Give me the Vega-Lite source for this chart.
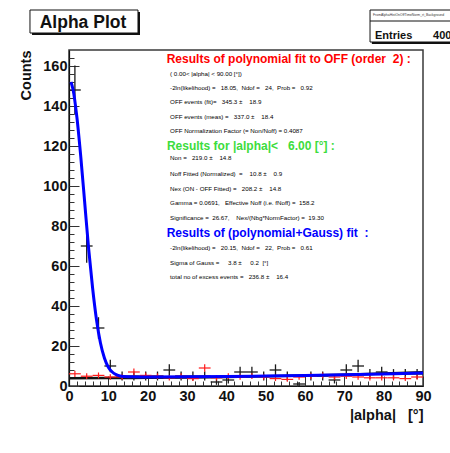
{
  "$schema": "https://vega.github.io/schema/vega-lite/v6.json",
  "width": 354,
  "height": 336,
  "autosize": "none",
  "padding": {"left": 69, "top": 50, "right": 27, "bottom": 67},
  "background": "white",
  "config": {
    "view": {"stroke": "#3a3a3a", "strokeWidth": 1.5},
    "axis": {
      "grid": false,
      "domainColor": "#111111",
      "domainWidth": 1.2,
      "tickColor": "#333333",
      "tickWidth": 1,
      "labelFont": "Liberation Sans",
      "labelFontWeight": "bold",
      "labelFontSize": 14.5,
      "labelColor": "#111111",
      "labelOverlap": false,
      "labelFlush": false,
      "titleFont": "Liberation Sans",
      "titleFontWeight": "bold",
      "titleFontSize": 14.5,
      "titleColor": "#111111"
    },
    "text": {"font": "Liberation Sans"}
  },
  "datasets": {
    "on": [
      {"alpha": 1.5, "counts": 148, "lo": 135.8, "hi": 160.2, "xlo": 0, "xhi": 3},
      {"alpha": 4.5, "counts": 70, "lo": 61.6, "hi": 78.4, "xlo": 3, "xhi": 6},
      {"alpha": 7.5, "counts": 29, "lo": 23.6, "hi": 34.4, "xlo": 6, "xhi": 9},
      {"alpha": 10.5, "counts": 10, "lo": 6.84, "hi": 13.16, "xlo": 9, "xhi": 12},
      {"alpha": 13.5, "counts": 5, "lo": 2.76, "hi": 7.24, "xlo": 12, "xhi": 15},
      {"alpha": 16.5, "counts": 5, "lo": 2.76, "hi": 7.24, "xlo": 15, "xhi": 18},
      {"alpha": 19.5, "counts": 5, "lo": 2.76, "hi": 7.24, "xlo": 18, "xhi": 21},
      {"alpha": 22.5, "counts": 5, "lo": 2.76, "hi": 7.24, "xlo": 21, "xhi": 24},
      {"alpha": 25.5, "counts": 8, "lo": 5.17, "hi": 10.83, "xlo": 24, "xhi": 27},
      {"alpha": 28.5, "counts": 5, "lo": 2.76, "hi": 7.24, "xlo": 27, "xhi": 30},
      {"alpha": 31.5, "counts": 5, "lo": 2.76, "hi": 7.24, "xlo": 30, "xhi": 33},
      {"alpha": 34.5, "counts": 5, "lo": 2.76, "hi": 7.24, "xlo": 33, "xhi": 36},
      {"alpha": 37.5, "counts": 2, "lo": 0.59, "hi": 3.41, "xlo": 36, "xhi": 39},
      {"alpha": 40.5, "counts": 3, "lo": 1.27, "hi": 4.73, "xlo": 39, "xhi": 42},
      {"alpha": 43.5, "counts": 7, "lo": 4.35, "hi": 9.65, "xlo": 42, "xhi": 45},
      {"alpha": 46.5, "counts": 7, "lo": 4.35, "hi": 9.65, "xlo": 45, "xhi": 48},
      {"alpha": 49.5, "counts": 5, "lo": 2.76, "hi": 7.24, "xlo": 48, "xhi": 51},
      {"alpha": 52.5, "counts": 8, "lo": 5.17, "hi": 10.83, "xlo": 51, "xhi": 54},
      {"alpha": 55.5, "counts": 5, "lo": 2.76, "hi": 7.24, "xlo": 54, "xhi": 57},
      {"alpha": 58.5, "counts": 1, "lo": 0, "hi": 2, "xlo": 57, "xhi": 60},
      {"alpha": 61.5, "counts": 5, "lo": 2.76, "hi": 7.24, "xlo": 60, "xhi": 63},
      {"alpha": 64.5, "counts": 5, "lo": 2.76, "hi": 7.24, "xlo": 63, "xhi": 66},
      {"alpha": 67.5, "counts": 3, "lo": 1.27, "hi": 4.73, "xlo": 66, "xhi": 69},
      {"alpha": 70.5, "counts": 8, "lo": 5.17, "hi": 10.83, "xlo": 69, "xhi": 72},
      {"alpha": 73.5, "counts": 10, "lo": 6.84, "hi": 13.16, "xlo": 72, "xhi": 75},
      {"alpha": 76.5, "counts": 6, "lo": 3.55, "hi": 8.45, "xlo": 75, "xhi": 78},
      {"alpha": 79.5, "counts": 7, "lo": 4.35, "hi": 9.65, "xlo": 78, "xhi": 81},
      {"alpha": 82.5, "counts": 6, "lo": 3.55, "hi": 8.45, "xlo": 81, "xhi": 84},
      {"alpha": 85.5, "counts": 6, "lo": 3.55, "hi": 8.45, "xlo": 84, "xhi": 87},
      {"alpha": 88.5, "counts": 6, "lo": 3.55, "hi": 8.45, "xlo": 87, "xhi": 90}
    ],
    "off": [
      {"alpha": 1.5, "counts": 6.1, "lo": 4.52, "hi": 7.68, "xlo": 0, "xhi": 3},
      {"alpha": 4.5, "counts": 4.9, "lo": 3.48, "hi": 6.32, "xlo": 3, "xhi": 6},
      {"alpha": 7.5, "counts": 5.3, "lo": 3.83, "hi": 6.77, "xlo": 6, "xhi": 9},
      {"alpha": 10.5, "counts": 4.5, "lo": 3.14, "hi": 5.86, "xlo": 9, "xhi": 12},
      {"alpha": 13.5, "counts": 4.5, "lo": 3.14, "hi": 5.86, "xlo": 12, "xhi": 15},
      {"alpha": 16.5, "counts": 7.0, "lo": 5.31, "hi": 8.69, "xlo": 15, "xhi": 18},
      {"alpha": 19.5, "counts": 5.3, "lo": 3.83, "hi": 6.77, "xlo": 18, "xhi": 21},
      {"alpha": 22.5, "counts": 4.9, "lo": 3.48, "hi": 6.32, "xlo": 21, "xhi": 24},
      {"alpha": 25.5, "counts": 4.1, "lo": 2.81, "hi": 5.39, "xlo": 24, "xhi": 27},
      {"alpha": 28.5, "counts": 4.9, "lo": 3.48, "hi": 6.32, "xlo": 27, "xhi": 30},
      {"alpha": 31.5, "counts": 3.7, "lo": 2.47, "hi": 4.93, "xlo": 30, "xhi": 33},
      {"alpha": 34.5, "counts": 9.0, "lo": 7.08, "hi": 10.92, "xlo": 33, "xhi": 36},
      {"alpha": 37.5, "counts": 4.1, "lo": 2.81, "hi": 5.39, "xlo": 36, "xhi": 39},
      {"alpha": 40.5, "counts": 4.9, "lo": 3.48, "hi": 6.32, "xlo": 39, "xhi": 42},
      {"alpha": 43.5, "counts": 4.5, "lo": 3.14, "hi": 5.86, "xlo": 42, "xhi": 45},
      {"alpha": 46.5, "counts": 4.9, "lo": 3.48, "hi": 6.32, "xlo": 45, "xhi": 48},
      {"alpha": 49.5, "counts": 4.5, "lo": 3.14, "hi": 5.86, "xlo": 48, "xhi": 51},
      {"alpha": 52.5, "counts": 3.7, "lo": 2.47, "hi": 4.93, "xlo": 51, "xhi": 54},
      {"alpha": 55.5, "counts": 3.3, "lo": 2.14, "hi": 4.46, "xlo": 54, "xhi": 57},
      {"alpha": 58.5, "counts": 4.5, "lo": 3.14, "hi": 5.86, "xlo": 57, "xhi": 60},
      {"alpha": 61.5, "counts": 4.9, "lo": 3.48, "hi": 6.32, "xlo": 60, "xhi": 63},
      {"alpha": 64.5, "counts": 5.3, "lo": 3.83, "hi": 6.77, "xlo": 63, "xhi": 66},
      {"alpha": 67.5, "counts": 4.5, "lo": 3.14, "hi": 5.86, "xlo": 66, "xhi": 69},
      {"alpha": 70.5, "counts": 4.9, "lo": 3.48, "hi": 6.32, "xlo": 69, "xhi": 72},
      {"alpha": 73.5, "counts": 4.5, "lo": 3.14, "hi": 5.86, "xlo": 72, "xhi": 75},
      {"alpha": 76.5, "counts": 4.1, "lo": 2.81, "hi": 5.39, "xlo": 75, "xhi": 78},
      {"alpha": 79.5, "counts": 4.1, "lo": 2.81, "hi": 5.39, "xlo": 78, "xhi": 81},
      {"alpha": 82.5, "counts": 4.1, "lo": 2.81, "hi": 5.39, "xlo": 81, "xhi": 84},
      {"alpha": 85.5, "counts": 3.7, "lo": 2.47, "hi": 4.93, "xlo": 84, "xhi": 87},
      {"alpha": 88.5, "counts": 4.5, "lo": 3.14, "hi": 5.86, "xlo": 87, "xhi": 90}
    ],
    "polyfit": [
      {"alpha": 0, "counts": 3.9},
      {"alpha": 10, "counts": 3.95},
      {"alpha": 20, "counts": 4.1},
      {"alpha": 30, "counts": 4.3},
      {"alpha": 40, "counts": 4.55},
      {"alpha": 50, "counts": 4.85},
      {"alpha": 60, "counts": 5.2},
      {"alpha": 70, "counts": 5.65},
      {"alpha": 80, "counts": 6.2},
      {"alpha": 90, "counts": 6.9}
    ],
    "gaussfit": [
      {"alpha": 0.5, "counts": 152},
      {"alpha": 1, "counts": 148.5},
      {"alpha": 2, "counts": 134.5},
      {"alpha": 3, "counts": 114.5},
      {"alpha": 4, "counts": 91.5},
      {"alpha": 5, "counts": 68.5},
      {"alpha": 6, "counts": 49},
      {"alpha": 7, "counts": 33},
      {"alpha": 8, "counts": 21.5},
      {"alpha": 9, "counts": 14},
      {"alpha": 10, "counts": 9.4},
      {"alpha": 11, "counts": 7},
      {"alpha": 12, "counts": 5.7},
      {"alpha": 13, "counts": 5.0},
      {"alpha": 14, "counts": 4.75},
      {"alpha": 16, "counts": 4.6},
      {"alpha": 20, "counts": 4.55},
      {"alpha": 30, "counts": 4.6},
      {"alpha": 40, "counts": 4.75},
      {"alpha": 50, "counts": 4.95},
      {"alpha": 60, "counts": 5.25},
      {"alpha": 70, "counts": 5.6},
      {"alpha": 80, "counts": 6.0},
      {"alpha": 90, "counts": 6.5}
    ],
    "small": [
      {"text": "(\u00a00.00<\u00a0|alpha|\u00a0<\u00a090.00\u00a0[°])", "c": 155.9},
      {"text": "-2ln(likelihood)\u00a0=\u00a0\u00a0\u00a018.05,\u00a0\u00a0Ndof\u00a0=\u00a0\u00a0\u00a024,\u00a0\u00a0Prob\u00a0=\u00a0\u00a0\u00a00.92", "c": 149.2},
      {"text": "OFF\u00a0events\u00a0(fit)=\u00a0\u00a0\u00a0345.3\u00a0±\u00a0\u00a0\u00a0\u00a018.9", "c": 141.9},
      {"text": "OFF\u00a0events\u00a0(meas)\u00a0=\u00a0\u00a0\u00a0337.0\u00a0±\u00a0\u00a0\u00a0\u00a018.4", "c": 134.7},
      {"text": "OFF\u00a0Normalization\u00a0Factor\u00a0(=\u00a0Non/Noff)\u00a0=\u00a00.4087", "c": 127.5},
      {"text": "Non\u00a0=\u00a0\u00a0\u00a0219.0\u00a0±\u00a0\u00a0\u00a0\u00a014.8", "c": 113.9},
      {"text": "Noff\u00a0Fitted\u00a0(Normalized)\u00a0\u00a0=\u00a0\u00a0\u00a0\u00a010.8\u00a0±\u00a0\u00a0\u00a0\u00a00.9", "c": 105.9},
      {"text": "Nex\u00a0(ON\u00a0-\u00a0OFF\u00a0Fitted)\u00a0=\u00a0\u00a0\u00a0208.2\u00a0±\u00a0\u00a0\u00a0\u00a014.8", "c": 98.5},
      {"text": "Gamma\u00a0=\u00a00.0691,\u00a0\u00a0\u00a0Effective\u00a0Noff\u00a0(i.e.\u00a0fNoff)\u00a0=\u00a0\u00a0158.2", "c": 91.4},
      {"text": "Significance\u00a0=\u00a0\u00a026.67,\u00a0\u00a0\u00a0\u00a0Nex/(Nbg*NormFactor)\u00a0=\u00a0\u00a019.30", "c": 84.2},
      {"text": "-2ln(likelihood)\u00a0=\u00a0\u00a0\u00a020.15,\u00a0\u00a0Ndof\u00a0=\u00a0\u00a0\u00a022,\u00a0\u00a0Prob\u00a0=\u00a0\u00a0\u00a00.61", "c": 68.9},
      {"text": "Sigma\u00a0of\u00a0Gauss\u00a0=\u00a0\u00a0\u00a0\u00a0\u00a03.8\u00a0±\u00a0\u00a0\u00a0\u00a0\u00a00.2\u00a0\u00a0[°]", "c": 61.7},
      {"text": "total\u00a0no\u00a0of\u00a0excess\u00a0events\u00a0=\u00a0\u00a0\u00a0236.8\u00a0±\u00a0\u00a0\u00a0\u00a016.4", "c": 54.7}
    ]
  },
  "resolve": {"axis": {"x": "independent", "y": "independent"}},
  "layer": [
    {
      "data": {"values": [{"alpha": 0, "counts": 0}]},
      "mark": {"type": "point", "opacity": 0},
      "encoding": {
        "x": {
          "field": "alpha", "type": "quantitative",
          "scale": {"domain": [0, 90], "nice": false, "zero": false},
          "axis": {
            "orient": "bottom",
            "values": [0, 10, 20, 30, 40, 50, 60, 70, 80, 90],
            "tickSize": -10,
            "labelPadding": 13,
            "labelFlush": false,
            "labelOverlap": false,
            "labelBound": false,
            "labelSeparation": 0,
            "title": "|alpha|\u00a0\u00a0 [°]",
            "titleX": 354,
            "titleY": 29,
            "titleAlign": "right",
            "titleBaseline": "middle"
          }
        },
        "y": {
          "field": "counts", "type": "quantitative",
          "scale": {"domain": [0, 168], "nice": false, "zero": false},
          "axis": {
            "orient": "left",
            "values": [0, 20, 40, 60, 80, 100, 120, 140, 160],
            "tickSize": -10,
            "labelPadding": 12,
            "labelFlush": false,
            "labelOverlap": false,
            "title": "Counts",
            "titleX": -42.5,
            "titleY": 0,
            "titleAngle": 270,
            "titleAlign": "right",
            "titleBaseline": "middle"
          }
        }
      }
    },
    {
      "data": {"values": [{"alpha": 0, "counts": 0}]},
      "mark": {"type": "point", "opacity": 0},
      "encoding": {
        "x": {
          "field": "alpha", "type": "quantitative",
          "axis": {"orient": "bottom", "values": [0, 2, 4, 6, 8, 10, 12, 14, 16, 18, 20, 22, 24, 26, 28, 30, 32, 34, 36, 38, 40, 42, 44, 46, 48, 50, 52, 54, 56, 58, 60, 62, 64, 66, 68, 70, 72, 74, 76, 78, 80, 82, 84, 86, 88, 90], "tickSize": -5, "labels": false, "domain": false, "title": null}
        },
        "y": {
          "field": "counts", "type": "quantitative",
          "axis": {"orient": "left", "values": [0, 4, 8, 12, 16, 20, 24, 28, 32, 36, 40, 44, 48, 52, 56, 60, 64, 68, 72, 76, 80, 84, 88, 92, 96, 100, 104, 108, 112, 116, 120, 124, 128, 132, 136, 140, 144, 148, 152, 156, 160, 164], "tickSize": -5, "labels": false, "domain": false, "title": null}
        }
      }
    },
    {
      "data": {"name": "polyfit"},
      "mark": {"type": "line", "color": "#111111", "strokeWidth": 2.5, "interpolate": "monotone"},
      "encoding": {
        "x": {"field": "alpha", "type": "quantitative", "axis": null},
        "y": {"field": "counts", "type": "quantitative", "axis": null}
      }
    },
    {
      "data": {"name": "on"},
      "mark": {"type": "rule", "color": "#1a1a1a", "strokeWidth": 1.3},
      "encoding": {
        "x": {"field": "alpha", "type": "quantitative", "axis": null},
        "y": {"field": "lo", "type": "quantitative", "axis": null},
        "y2": {"field": "hi"}
      }
    },
    {
      "data": {"name": "on"},
      "mark": {"type": "rule", "color": "#1a1a1a", "strokeWidth": 1.3},
      "encoding": {
        "x": {"field": "xlo", "type": "quantitative", "axis": null},
        "x2": {"field": "xhi"},
        "y": {"field": "counts", "type": "quantitative", "axis": null}
      }
    },
    {
      "data": {"name": "off"},
      "mark": {"type": "rule", "color": "#ff1a1a", "strokeWidth": 1.2},
      "encoding": {
        "x": {"field": "alpha", "type": "quantitative", "axis": null},
        "y": {"field": "lo", "type": "quantitative", "axis": null},
        "y2": {"field": "hi"}
      }
    },
    {
      "data": {"name": "off"},
      "mark": {"type": "rule", "color": "#ff1a1a", "strokeWidth": 1.2},
      "encoding": {
        "x": {"field": "xlo", "type": "quantitative", "axis": null},
        "x2": {"field": "xhi"},
        "y": {"field": "counts", "type": "quantitative", "axis": null}
      }
    },
    {
      "data": {"name": "gaussfit"},
      "mark": {"type": "line", "color": "#0000ff", "strokeWidth": 3, "interpolate": "monotone"},
      "encoding": {
        "x": {"field": "alpha", "type": "quantitative", "axis": null},
        "y": {"field": "counts", "type": "quantitative", "axis": null}
      }
    },
    {
      "data": {"values": [{"text": "Results of polynomial fit to OFF (order\u00a0 2) :"}]},
      "mark": {"type": "text", "color": "#ff0000", "fontWeight": "bold", "fontSize": 12, "align": "left", "baseline": "middle"},
      "encoding": {
        "x": {"datum": 24.84, "axis": null},
        "y": {"datum": 163.3, "axis": null},
        "text": {"field": "text"}
      }
    },
    {
      "data": {"values": [{"text": "Results for |alpha|<\u00a0\u00a0 6.00 [°] :"}]},
      "mark": {"type": "text", "color": "#3ddc3d", "fontWeight": "bold", "fontSize": 12, "align": "left", "baseline": "middle"},
      "encoding": {
        "x": {"datum": 24.9, "axis": null},
        "y": {"datum": 120.1, "axis": null},
        "text": {"field": "text"}
      }
    },
    {
      "data": {"values": [{"text": "Results of (polynomial+Gauss) fit\u00a0 :"}]},
      "mark": {"type": "text", "color": "#0000ff", "fontWeight": "bold", "fontSize": 12, "align": "left", "baseline": "middle"},
      "encoding": {
        "x": {"datum": 24.84, "axis": null},
        "y": {"datum": 76.6, "axis": null},
        "text": {"field": "text"}
      }
    },
    {
      "data": {"name": "small"},
      "mark": {"type": "text", "color": "#000000", "fontSize": 6.2, "align": "left", "baseline": "middle"},
      "encoding": {
        "x": {"datum": 25.7, "axis": null},
        "y": {"field": "c", "type": "quantitative", "axis": null},
        "text": {"field": "text"}
      }
    },
    {
      "data": {"values": [{}]},
      "mark": {"type": "rect", "color": "#111111"},
      "encoding": {
        "x": {"datum": -9.4, "axis": null},
        "x2": {"datum": 18.05},
        "y": {"datum": 187, "axis": null},
        "y2": {"datum": 175.5}
      }
    },
    {
      "data": {"values": [{}]},
      "mark": {"type": "rect", "fill": "white", "stroke": "#111111", "strokeWidth": 1},
      "encoding": {
        "x": {"datum": -9.92, "axis": null},
        "x2": {"datum": 17.54},
        "y": {"datum": 188, "axis": null},
        "y2": {"datum": 176.5}
      }
    },
    {
      "data": {"values": [{"text": "Alpha Plot"}]},
      "mark": {"type": "text", "color": "#111111", "fontWeight": "bold", "fontSize": 17.5, "align": "center", "baseline": "alphabetic"},
      "encoding": {
        "x": {"datum": 3.56, "axis": null},
        "y": {"datum": 179, "axis": null},
        "text": {"field": "text"}
      }
    },
    {
      "data": {"values": [{}]},
      "mark": {"type": "rect", "color": "#111111"},
      "encoding": {
        "x": {"datum": 77.0, "axis": null},
        "x2": {"datum": 100},
        "y": {"datum": 187, "axis": null},
        "y2": {"datum": 171}
      }
    },
    {
      "data": {"values": [{}]},
      "mark": {"type": "rect", "fill": "white", "stroke": "#111111", "strokeWidth": 1},
      "encoding": {
        "x": {"datum": 76.53, "axis": null},
        "x2": {"datum": 100},
        "y": {"datum": 188, "axis": null},
        "y2": {"datum": 172}
      }
    },
    {
      "data": {"values": [{}]},
      "mark": {"type": "rule", "color": "#111111", "strokeWidth": 1},
      "encoding": {
        "x": {"datum": 76.53, "axis": null},
        "x2": {"datum": 100},
        "y": {"datum": 182.5, "axis": null}
      }
    },
    {
      "data": {"values": [{"text": "FromAlphaHistOnOffTimeNorm_rt_Background"}]},
      "mark": {"type": "text", "color": "#333333", "fontSize": 3.4, "align": "left", "baseline": "middle"},
      "encoding": {
        "x": {"datum": 77.3, "axis": null},
        "y": {"datum": 185.3, "axis": null},
        "text": {"field": "text"}
      }
    },
    {
      "data": {"values": [{"text": "Entries"}]},
      "mark": {"type": "text", "color": "#111111", "fontWeight": "bold", "fontSize": 11, "align": "left", "baseline": "middle"},
      "encoding": {
        "x": {"datum": 77.8, "axis": null},
        "y": {"datum": 175.2, "axis": null},
        "text": {"field": "text"}
      }
    },
    {
      "data": {"values": [{"text": "400"}]},
      "mark": {"type": "text", "color": "#111111", "fontWeight": "bold", "fontSize": 11, "align": "left", "baseline": "middle"},
      "encoding": {
        "x": {"datum": 92.55, "axis": null},
        "y": {"datum": 175.2, "axis": null},
        "text": {"field": "text"}
      }
    }
  ]
}
